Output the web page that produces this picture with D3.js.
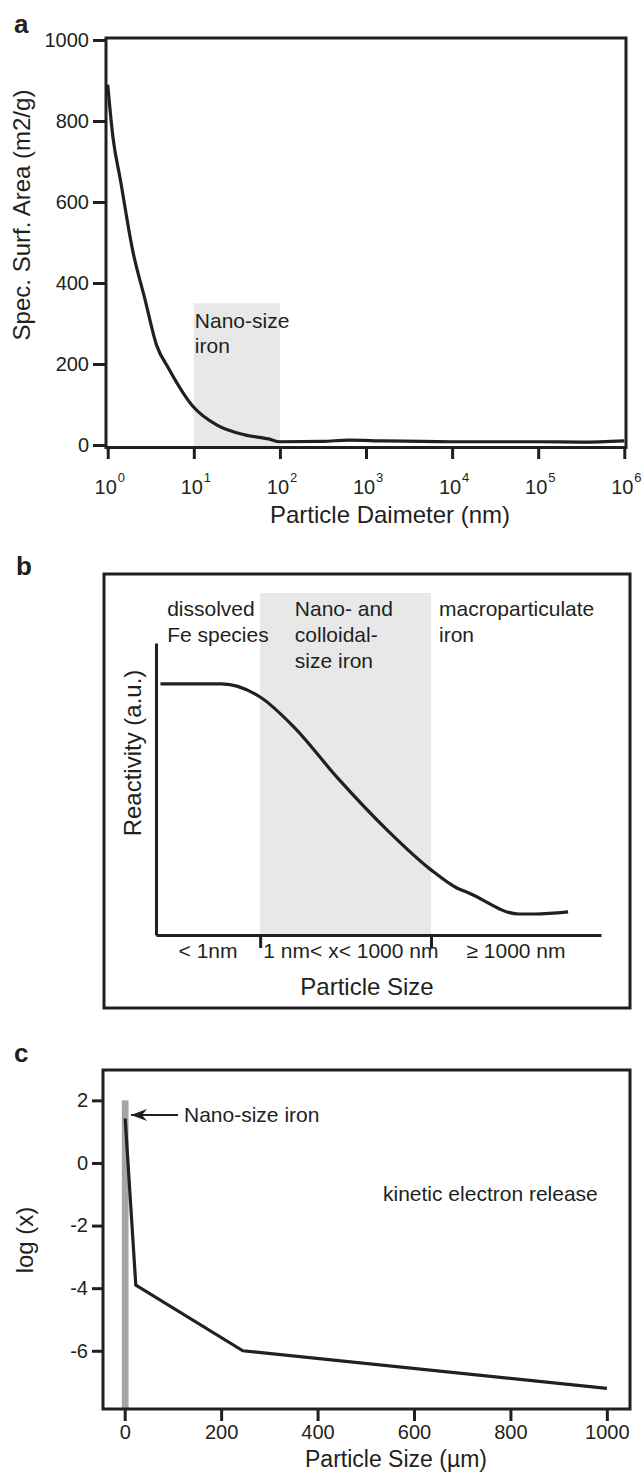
<!DOCTYPE html>
<html>
<head>
<meta charset="utf-8">
<script src="https://cdn.jsdelivr.net/npm/d3@7"></script>
<style>
  body { margin: 0; background: #fff; }
  text { font-family: "Liberation Sans", Arial, Helvetica, sans-serif; fill: #231f20; }
</style>
</head>
<body>
<div id="chart"></div>
<script>
// panel a: specific surface area vs particle diameter
const aDiameter = [1, 1.15, 1.4, 1.95, 2.7, 3.7, 5.1, 9.8, 18.6, 39, 74, 100, 316, 630, 1600, 10000, 100000, 316000, 1000000];
const aArea = [890, 760, 656, 480, 361, 246, 189, 95, 49, 25, 15, 8, 9, 12, 10, 8, 8, 7, 10];
const aTicksY = [0, 200, 400, 600, 800, 1000];
const aExponents = [0, 1, 2, 3, 4, 5, 6];
const aNanoBand = [10, 100];
const aNanoTop = 350;

// panel b: reactivity vs particle size (arbitrary units)
const bPos = [1, 14.8, 23.4, 31, 40.8, 51.9, 61.8, 67.6, 70.3, 81.5, 85.2, 92.6];
const bReact = [86, 86, 81.5, 71.2, 53.8, 36, 22.3, 16.1, 14.4, 7.2, 7.2, 7.9];
const bBounds = [23.4, 61.8];
const bCatLabels = ['< 1nm', '1 nm< x< 1000 nm', '≥ 1000 nm'];
const bCatPos = [11.7, 43.8, 80.9];
const bRegions = [['dissolved', 'Fe species'], ['Nano- and', 'colloidal-', 'size iron'], ['macroparticulate', 'iron']];
const bRegionPos = [2.5, 31.2, 63.6];

// panel c: log(x) vs particle size (um)
const cSize = [1, 23, 245, 1000];
const cLog = [1.42, -3.9, -6.0, -7.2];
const cTicksX = [0, 200, 400, 600, 800, 1000];
const cTicksY = [2, 0, -2, -4, -6];
const cNanoBar = [-6, 8];

const width = 643;
const height = 1473;
const ink = '#231f20';
const plain = function (d) { return String(d); };

const svg = d3.select('#chart')
  .append('svg')
  .attr('width', width)
  .attr('height', height);

function styleAxis (g) {
  g.selectAll('line').attr('stroke', ink).attr('stroke-width', 3);
  g.selectAll('path').attr('stroke', ink).attr('stroke-width', 3);
  g.selectAll('text').attr('font-size', '20px').attr('fill', ink)
    .attr('font-family', '"Liberation Sans", Arial, sans-serif');
}

function letter (t, x, y) {
  svg.append('text').attr('x', x).attr('y', y)
    .attr('font-size', '26px').attr('font-weight', 'bold').text(t);
}

// ---------- panel a ----------
const xA = d3.scaleLog().domain([Math.pow(10, -0.02), Math.pow(10, 6.02)]).range([106, 626]);
const yA = d3.scaleLinear().domain([0, 1000]).range([445, 40]);
const gA = svg.append('g');

gA.append('rect')
  .attr('x', xA(aNanoBand[0]))
  .attr('y', yA(aNanoTop))
  .attr('width', xA(aNanoBand[1]) - xA(aNanoBand[0]))
  .attr('height', 447 - yA(aNanoTop))
  .attr('fill', '#e8e8e8');

gA.append('text').attr('x', xA(aNanoBand[0]) + 1).attr('y', 328).attr('font-size', '21px').text('Nano-size');
gA.append('text').attr('x', xA(aNanoBand[0]) + 1).attr('y', 353).attr('font-size', '21px').text('iron');

const lineA = d3.line()
  .x(function (d, i) { return xA(aDiameter[i]); })
  .y(function (d) { return yA(d); })
  .curve(d3.curveMonotoneX);
gA.append('path')
  .attr('d', lineA(aArea))
  .attr('fill', 'none')
  .attr('stroke', ink)
  .attr('stroke-width', 3.2);

gA.append('rect')
  .attr('x', 106).attr('y', 38).attr('width', 520).attr('height', 409.5)
  .attr('fill', 'none').attr('stroke', ink).attr('stroke-width', 3);

const yAxisA = gA.append('g')
  .attr('transform', 'translate(105,0)')
  .call(d3.axisLeft(yA).tickValues(aTicksY).tickFormat(plain).tickSize(12).tickPadding(4));
yAxisA.select('.domain').remove();
styleAxis(yAxisA);

const xAxisA = gA.append('g')
  .attr('transform', 'translate(0,447)')
  .call(d3.axisBottom(xA).tickValues(aExponents.map(function (e) { return Math.pow(10, e); }))
    .tickSize(12).tickFormat(''));
xAxisA.select('.domain').remove();
styleAxis(xAxisA);

aExponents.forEach(function (e) {
  const x = xA(Math.pow(10, e));
  gA.append('text').attr('x', x - 2).attr('y', 494).attr('font-size', '20px')
    .style('text-anchor', 'middle').text('10');
  gA.append('text').attr('x', x + 10).attr('y', 482).attr('font-size', '13px').text(e);
});

gA.append('text')
  .attr('transform', 'translate(30,215) rotate(-90)')
  .attr('font-size', '24px')
  .style('text-anchor', 'middle')
  .text('Spec. Surf. Area (m2/g)');
gA.append('text').attr('x', 390).attr('y', 523).attr('font-size', '24px')
  .style('text-anchor', 'middle').text('Particle Daimeter (nm)');
letter('a', 14, 33);

// ---------- panel b ----------
const xB = d3.scaleLinear().domain([0, 100]).range([156, 601]);
const yB = d3.scaleLinear().domain([0, 100]).range([935, 643]);
const gB = svg.append('g');

gB.append('rect')
  .attr('x', xB(bBounds[0]))
  .attr('y', 593)
  .attr('width', xB(bBounds[1]) - xB(bBounds[0]))
  .attr('height', yB(0) - 593)
  .attr('fill', '#e8e8e8');

bRegions.forEach(function (lines, i) {
  lines.forEach(function (t, j) {
    gB.append('text')
      .attr('x', xB(bRegionPos[i]))
      .attr('y', 616 + j * 26)
      .attr('font-size', '21px')
      .text(t);
  });
});

const lineB = d3.line()
  .x(function (d, i) { return xB(bPos[i]); })
  .y(function (d) { return yB(d); })
  .curve(d3.curveMonotoneX);
gB.append('path')
  .attr('d', lineB(bReact))
  .attr('fill', 'none')
  .attr('stroke', ink)
  .attr('stroke-width', 3.2);

const yAxisB = gB.append('g')
  .attr('transform', 'translate(' + xB(0) + ',0)')
  .call(d3.axisLeft(yB).tickValues([]).tickSizeOuter(0));
styleAxis(yAxisB);

const xAxisB = gB.append('g')
  .attr('transform', 'translate(0,' + yB(0) + ')')
  .call(d3.axisBottom(xB).tickValues(bBounds).tickSize(13).tickSizeOuter(0).tickFormat(''));
styleAxis(xAxisB);

bCatLabels.forEach(function (t, i) {
  gB.append('text').attr('x', xB(bCatPos[i])).attr('y', 958)
    .attr('font-size', '21px').style('text-anchor', 'middle').text(t);
});

gB.append('rect')
  .attr('x', 104).attr('y', 574).attr('width', 526).attr('height', 434)
  .attr('fill', 'none').attr('stroke', ink).attr('stroke-width', 3);

gB.append('text')
  .attr('transform', 'translate(141,753) rotate(-90)')
  .attr('font-size', '24px')
  .style('text-anchor', 'middle')
  .text('Reactivity (a.u.)');
gB.append('text').attr('x', 367).attr('y', 995).attr('font-size', '24px')
  .style('text-anchor', 'middle').text('Particle Size');
letter('b', 16, 575);

// ---------- panel c ----------
const xC = d3.scaleLinear().domain([-45, 1048]).range([103, 630]);
const yC = d3.scaleLinear().domain([-7.86, 2.97]).range([1409, 1070]);
const gC = svg.append('g');

gC.append('rect')
  .attr('x', xC(cNanoBar[0]))
  .attr('y', yC(2))
  .attr('width', xC(cNanoBar[1]) - xC(cNanoBar[0]))
  .attr('height', yC.range()[0] - yC(2))
  .attr('fill', '#a6a6a6');

const lineC = d3.line()
  .x(function (d, i) { return xC(cSize[i]); })
  .y(function (d) { return yC(d); });
gC.append('path')
  .attr('d', lineC(cLog))
  .attr('fill', 'none')
  .attr('stroke', ink)
  .attr('stroke-width', 3.2);

gC.append('rect')
  .attr('x', 103).attr('y', 1070).attr('width', 527).attr('height', 339)
  .attr('fill', 'none').attr('stroke', ink).attr('stroke-width', 3);

const yAxisC = gC.append('g')
  .attr('transform', 'translate(103,0)')
  .call(d3.axisLeft(yC).tickValues(cTicksY).tickFormat(plain).tickSize(11).tickPadding(4));
yAxisC.select('.domain').remove();
styleAxis(yAxisC);

const xAxisC = gC.append('g')
  .attr('transform', 'translate(0,1409)')
  .call(d3.axisBottom(xC).tickValues(cTicksX).tickFormat(plain).tickSize(12).tickPadding(4));
xAxisC.select('.domain').remove();
styleAxis(xAxisC);

// arrow pointing at the nano-size bar
const defs = svg.append('defs');
defs.append('marker')
  .attr('id', 'arrow')
  .attr('viewBox', '0 0 16 12')
  .attr('refX', 0).attr('refY', 6)
  .attr('markerUnits', 'userSpaceOnUse')
  .attr('markerWidth', 16).attr('markerHeight', 12)
  .attr('orient', 'auto')
  .append('path')
  .attr('d', 'M0,6 L16,0 L11,6 L16,12 Z')
  .attr('fill', ink);
gC.append('line')
  .attr('x1', 131).attr('y1', 1115)
  .attr('x2', 178).attr('y2', 1115)
  .attr('stroke', ink).attr('stroke-width', 1.8)
  .attr('marker-start', 'url(#arrow)');
gC.append('text').attr('x', 184).attr('y', 1122).attr('font-size', '21px').text('Nano-size iron');
gC.append('text').attr('x', 383).attr('y', 1201).attr('font-size', '21px').text('kinetic electron release');

gC.append('text')
  .attr('transform', 'translate(33,1240) rotate(-90)')
  .attr('font-size', '24px')
  .style('text-anchor', 'middle')
  .text('log (x)');
gC.append('text').attr('x', 396).attr('y', 1467).attr('font-size', '23px')
  .style('text-anchor', 'middle').text('Particle Size (µm)');
letter('c', 14, 1062);
</script>
</body>
</html>
